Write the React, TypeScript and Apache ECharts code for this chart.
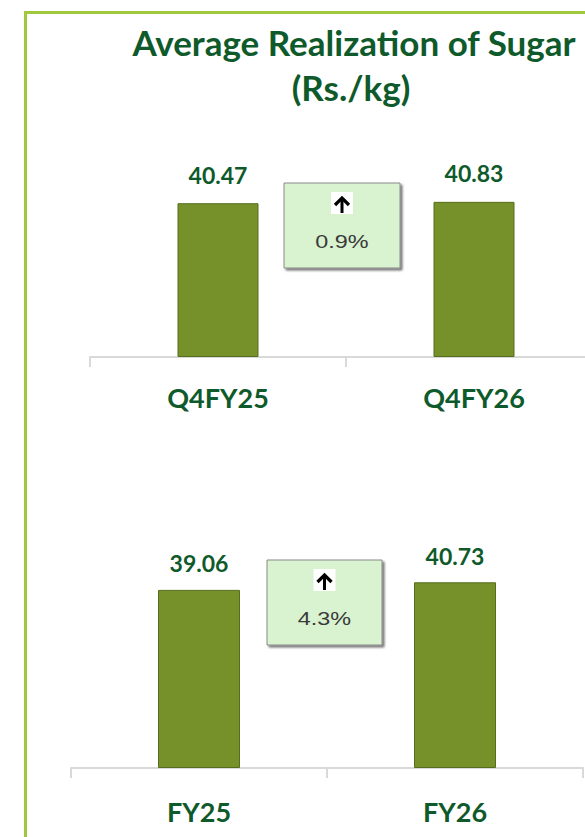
import React, { useEffect, useRef } from "react";
import * as echarts from "echarts";

const titleLines = ["Average Realization of Sugar", "(Rs./kg)"];
const quarterCategories = ["Q4FY25", "Q4FY26"];
const quarterValues = [40.47, 40.83];
const yearCategories = ["FY25", "FY26"];
const yearValues = [39.06, 40.73];
const changeLabels = ["0.9%", "4.3%"];

const DARK_GREEN = "#0f5a2b";
const BAR_GREEN = "#77912a";
const BORDER_GREEN = "#a0c83c";
const FONT = "Lato, 'Open Sans', sans-serif";

function changeBox(x: number, y: number, w: number, h: number, label: string) {
  const cx = x + w / 2;
  const ay = y + 14;
  return {
    type: "group",
    children: [
      {
        type: "rect",
        shape: { x, y, width: w, height: h },
        style: {
          fill: "#d9f2d0",
          stroke: "#8a8a8a",
          lineWidth: 1,
          shadowColor: "rgba(0,0,0,0.55)",
          shadowOffsetX: 2,
          shadowOffsetY: 2,
          shadowBlur: 2,
        },
      },
      {
        type: "rect",
        shape: { x: cx - 11, y: y + 9, width: 22, height: 22 },
        style: { fill: "#ffffff" },
      },
      {
        type: "polyline",
        shape: { points: [[cx - 7, ay + 8], [cx, ay + 1], [cx + 7, ay + 8]] },
        style: { stroke: "#000000", lineWidth: 3.2, fill: "none" },
      },
      {
        type: "line",
        shape: { x1: cx, y1: ay + 1, x2: cx, y2: ay + 16 },
        style: { stroke: "#000000", lineWidth: 3 },
      },
      {
        type: "text",
        x: cx,
        y: y + 59,
        scaleX: 1.3,
        style: {
          text: label,
          font: "18px 'Liberation Sans', Arial, sans-serif",
          fill: "#3a3a3a",
          align: "center",
          verticalAlign: "middle",
          textAlign: "center",
          textVerticalAlign: "middle",
        },
      },
    ],
  };
}

export default function App() {
  const ref = useRef<HTMLDivElement>(null);

  useEffect(() => {
    document.body.style.margin = "0";
    document.body.style.overflow = "hidden";
    if (!ref.current) return;
    const chart = echarts.init(ref.current, null, { renderer: "svg" });

    const axisCommon = {
      type: "category" as const,
      boundaryGap: true,
      axisLine: { show: true, lineStyle: { color: "#d9d9d9", width: 2 } },
      axisTick: { show: true, length: 10, lineStyle: { color: "#d9d9d9", width: 2 } },
      axisLabel: {
        color: DARK_GREEN,
        fontFamily: FONT,
        fontWeight: "bold" as const,
        fontSize: 27,
      },
      splitLine: { show: false },
    };

    const yCommon = {
      type: "value" as const,
      min: 0,
      max: 50,
      show: false,
      splitLine: { show: false },
    };

    const labelCommon = {
      show: true,
      position: "top" as const,
      distance: 15,
      color: DARK_GREEN,
      fontFamily: FONT,
      fontWeight: "bold" as const,
      fontSize: 23,
      formatter: (p: any) => Number(p.value).toFixed(2),
    };

    chart.setOption({
      animation: false,
      grid: [
        { left: 90, top: 167, width: 512, height: 190 },
        { left: 71, top: 540, width: 512, height: 228 },
      ],
      xAxis: [
        { ...axisCommon, gridIndex: 0, data: quarterCategories, axisLabel: { ...axisCommon.axisLabel, margin: 27 } },
        { ...axisCommon, gridIndex: 1, data: yearCategories, axisLabel: { ...axisCommon.axisLabel, margin: 30 } },
      ],
      yAxis: [
        { ...yCommon, gridIndex: 0 },
        { ...yCommon, gridIndex: 1 },
      ],
      series: [
        {
          type: "bar",
          xAxisIndex: 0,
          yAxisIndex: 0,
          data: quarterValues,
          barWidth: 81,
          itemStyle: { color: BAR_GREEN, borderColor: "#566d1e", borderWidth: 1 },
          label: { ...labelCommon, distance: 17 },
        },
        {
          type: "bar",
          xAxisIndex: 1,
          yAxisIndex: 1,
          data: yearValues,
          barWidth: 82,
          itemStyle: { color: BAR_GREEN, borderColor: "#566d1e", borderWidth: 1 },
          label: { ...labelCommon, distance: 15 },
        },
      ],
      graphic: [
        {
          type: "rect",
          shape: { x: 25.5, y: 12.5, width: 700, height: 900 },
          style: { fill: "none", stroke: BORDER_GREEN, lineWidth: 3 },
        },
        {
          type: "text",
          x: 354,
          y: 42,
          style: {
            text: titleLines[0],
            font: `bold 35px ${FONT}`,
            fill: DARK_GREEN,
            align: "center",
            verticalAlign: "middle",
            textAlign: "center",
            textVerticalAlign: "middle",
          },
        },
        {
          type: "text",
          x: 351,
          y: 87,
          style: {
            text: titleLines[1],
            font: `bold 35px ${FONT}`,
            fill: DARK_GREEN,
            align: "center",
            verticalAlign: "middle",
            textAlign: "center",
            textVerticalAlign: "middle",
          },
        },
        changeBox(284, 183, 116, 85, changeLabels[0]),
        changeBox(267, 560, 115, 85, changeLabels[1]),
      ],
    });

    return () => chart.dispose();
  }, []);

  return (
    <div style={{ width: 585, height: 837, overflow: "hidden" }}>
      <div ref={ref} style={{ width: 640, height: 837 }} />
    </div>
  );
}
